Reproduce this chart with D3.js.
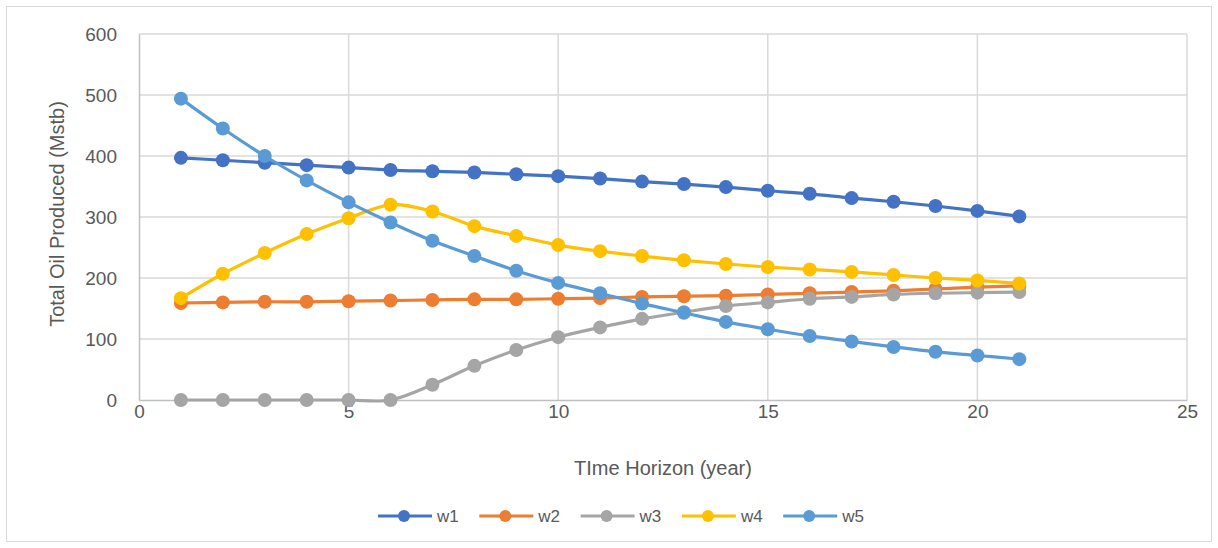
<!DOCTYPE html>
<html><head><meta charset="utf-8">
<script src="https://cdn.jsdelivr.net/npm/d3@7"></script>
<style>body{margin:0;background:#fff}svg{display:block}</style>
</head><body><svg id="c" width="1218" height="548"></svg>
<script>
const years = [1,2,3,4,5,6,7,8,9,10,11,12,13,14,15,16,17,18,19,20,21];
const seriesNames = ["w1","w2","w3","w4","w5"];
const seriesColors = ["#4472C4","#ED7D31","#A5A5A5","#FFC000","#5B9BD5"];
const w1 = [397,393,389,385,381,377,375,373,370,367,363,358,354,349,343,338,331,325,318,310,301];
const w2 = [159,160,161,161,162,163,164,165,165,166,167,169,170,171,173,175,177,179,182,185,187];
const w3 = [0,0,0,0,0,0,25,56,82,103,119,133,144,154,160,166,169,173,175,176,177];
const w4 = [167,207,241,272,298,320,309,285,269,254,244,236,229,223,218,214,210,205,200,196,191];
const w5 = [494,445,400,360,324,291,261,236,212,192,175,158,143,128,116,105,96,87,79,73,67];
const seriesValues = [w1,w2,w3,w4,w5];
const xTicks = [0,5,10,15,20,25];
const yTicks = [0,100,200,300,400,500,600];

const svg = d3.select("#c");
const font = "'Liberation Sans', Arial, sans-serif";
svg.append("rect").attr("x",6.5).attr("y",6.5).attr("width",1205).attr("height",535)
  .attr("fill","#fff").attr("stroke","#d9d9d9").attr("stroke-width",1);

const L=139, R=1187, T=34, B=400;
const x = d3.scaleLinear().domain([0,25]).range([L,R]);
const y = d3.scaleLinear().domain([0,600]).range([B,T]);

// gridlines
svg.append("g").selectAll("line").data(yTicks.filter(d=>d>0)).join("line")
  .attr("x1",L).attr("x2",R).attr("y1",d=>y(d)).attr("y2",d=>y(d))
  .attr("stroke","#d9d9d9").attr("stroke-width",1.5);
svg.append("g").selectAll("line").data(xTicks.filter(d=>d>0)).join("line")
  .attr("y1",T).attr("y2",B).attr("x1",d=>x(d)).attr("x2",d=>x(d))
  .attr("stroke","#d9d9d9").attr("stroke-width",1.5);

// axes
const xAxis = svg.append("g").attr("transform",`translate(0,${B})`)
  .call(d3.axisBottom(x).tickValues(xTicks).tickSize(0).tickPadding(5));
const yAxis = svg.append("g").attr("transform",`translate(${L},0)`)
  .call(d3.axisLeft(y).tickValues(yTicks).tickSize(0).tickPadding(22));
[xAxis,yAxis].forEach(a=>{
  a.select(".domain").attr("stroke","#bfbfbf").attr("stroke-width",1.5);
  a.selectAll("text").attr("font-family",font).attr("font-size",19).attr("fill","#595959");
});

svg.append("text").attr("x",663).attr("y",475).attr("text-anchor","middle")
  .attr("font-family",font).attr("font-size",20).attr("fill","#595959").text("TIme Horizon (year)");
svg.append("text").attr("transform","translate(64,214) rotate(-90)").attr("text-anchor","middle")
  .attr("font-family",font).attr("font-size",20).attr("fill","#595959").text("Total Oil Produced (Mstb)");

const line = d3.line().x((d,i)=>x(years[i])).y(d=>y(d)).curve(d3.curveCatmullRom.alpha(0));
seriesValues.forEach((vals,k)=>{
  const g = svg.append("g");
  g.append("path").attr("d",line(vals)).attr("fill","none")
    .attr("stroke",seriesColors[k]).attr("stroke-width",3.2).attr("stroke-linejoin","round");
  g.selectAll("circle").data(vals).join("circle")
    .attr("cx",(d,i)=>x(years[i])).attr("cy",d=>y(d)).attr("r",7).attr("fill",seriesColors[k]);
});

// legend
const lg = svg.append("g");
seriesNames.forEach((n,k)=>{
  const x0 = 378 + k*101.3;
  lg.append("line").attr("x1",x0).attr("x2",x0+54).attr("y1",516).attr("y2",516)
    .attr("stroke",seriesColors[k]).attr("stroke-width",3);
  lg.append("circle").attr("cx",x0+26).attr("cy",516).attr("r",6).attr("fill",seriesColors[k]);
  lg.append("text").attr("x",x0+59).attr("y",522).attr("font-family",font).attr("font-size",17)
    .attr("fill","#595959").text(n);
});
</script></body></html>
